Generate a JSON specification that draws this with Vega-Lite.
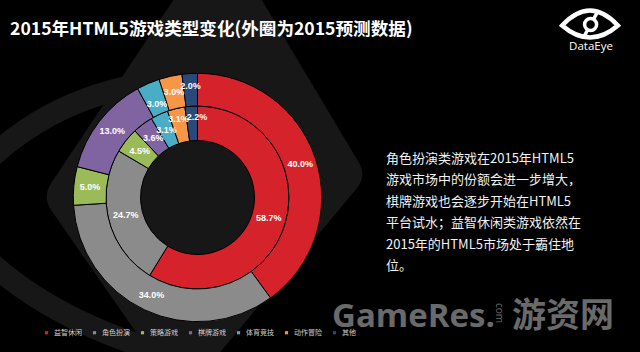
{
  "$schema": "https://vega.github.io/schema/vega-lite/v6.json",
  "width": 640,
  "height": 352,
  "autosize": {"type": "none"},
  "padding": 0,
  "background": "#000000",
  "config": {"view": {"stroke": null}},
  "datasets": {
    "share": [
      {"ring": "内圈", "type": "益智休闲", "value": 58.7, "label": "58.7%", "ord": 1},
      {"ring": "内圈", "type": "角色扮演", "value": 24.7, "label": "24.7%", "ord": 2},
      {"ring": "内圈", "type": "策略游戏", "value": 4.5, "label": "4.5%", "ord": 3},
      {"ring": "内圈", "type": "棋牌游戏", "value": 3.6, "label": "3.6%", "ord": 4},
      {"ring": "内圈", "type": "体育竞技", "value": 3.1, "label": "3.1%", "ord": 5},
      {"ring": "内圈", "type": "动作冒险", "value": 3.1, "label": "3.1%", "ord": 6},
      {"ring": "内圈", "type": "其他", "value": 2.2, "label": "2.2%", "ord": 7},
      {"ring": "外圈", "type": "益智休闲", "value": 40.0, "label": "40.0%", "ord": 1},
      {"ring": "外圈", "type": "角色扮演", "value": 34.0, "label": "34.0%", "ord": 2},
      {"ring": "外圈", "type": "策略游戏", "value": 5.0, "label": "5.0%", "ord": 3},
      {"ring": "外圈", "type": "棋牌游戏", "value": 13.0, "label": "13.0%", "ord": 4},
      {"ring": "外圈", "type": "体育竞技", "value": 3.0, "label": "3.0%", "ord": 5},
      {"ring": "外圈", "type": "动作冒险", "value": 3.0, "label": "3.0%", "ord": 6},
      {"ring": "外圈", "type": "其他", "value": 2.0, "label": "2.0%", "ord": 7}
    ]
  },
  "resolve": {"scale": {"theta": "independent"}},
  "layer": [
    {
      "data": {"values": [{"part": "pupil"}]},
      "mark": {"type": "point", "shape": "M-0.513,-0.009 L0.05,-0.853 L0.512,-0.080 Q0.54,-0.033 0.505,0.009 L-0.077,0.707 L-0.512,0.082 Q-0.543,0.037 -0.513,-0.009 Z", "size": 360000, "filled": true, "color": "#171717", "opacity": 1, "x": 205, "y": 186, "clip": true},
      "encoding": {}
    },
    {
      "data": {"values": [{"part": "lids"}]},
      "mark": {"type": "point", "shape": "M-0.817,0.013 Q-0.483,-0.387 0.083,-0.353 M-0.817,0.147 Q-0.55,0.48 0.083,0.613", "size": 360000, "filled": false, "color": "#171717", "strokeWidth": 22, "opacity": 1, "x": 205, "y": 186, "clip": true},
      "encoding": {}
    },
    {
      "data": {"name": "share"},
      "transform": [{"filter": "datum.ring === '内圈'"}],
      "encoding": {
        "theta": {"field": "value", "type": "quantitative", "stack": true},
        "order": {"field": "ord", "type": "quantitative"}
      },
      "layer": [
        {
          "mark": {"type": "arc", "x": 197.5, "y": 197.5, "radius": 91.5, "radius2": 57, "stroke": "#000000", "strokeWidth": 1},
          "encoding": {
            "color": {
              "field": "type", "type": "nominal",
              "scale": {"domain": ["益智休闲", "角色扮演", "策略游戏", "棋牌游戏", "体育竞技", "动作冒险", "其他"], "range": ["#d6222b", "#8b8b8b", "#9bbb59", "#8064a2", "#4bacc6", "#f79646", "#28497a"]},
              "legend": {"orient": "none", "legendX": 43, "legendY": 329, "direction": "horizontal", "columns": 7, "title": null, "symbolType": "square", "symbolSize": 10, "symbolStrokeWidth": 0, "labelFontSize": 7, "labelColor": "#d0d0d0", "labelFont": "Noto Sans CJK SC", "labelOffset": 4, "columnPadding": 9, "padding": 0}
            }
          }
        },
        {
          "mark": {"type": "text", "x": 197.5, "y": 197.5, "radius": {"expr": "datum.ord >= 6 ? 81 : 74"}, "dx": {"expr": "datum.ord == 7 ? 5 : 0"}, "fill": "#ffffff", "fontSize": 9, "fontWeight": "bold", "font": "Liberation Sans"},
          "encoding": {"text": {"field": "label"}, "detail": {"field": "type"}}
        }
      ]
    },
    {
      "data": {"name": "share"},
      "transform": [{"filter": "datum.ring === '外圈'"}],
      "encoding": {
        "theta": {"field": "value", "type": "quantitative", "stack": true},
        "order": {"field": "ord", "type": "quantitative"}
      },
      "layer": [
        {
          "mark": {"type": "arc", "x": 197.5, "y": 197.5, "radius": 124.2, "radius2": 91.5, "stroke": "#000000", "strokeWidth": 1},
          "encoding": {
            "color": {
              "field": "type", "type": "nominal",
              "scale": {"domain": ["益智休闲", "角色扮演", "策略游戏", "棋牌游戏", "体育竞技", "动作冒险", "其他"], "range": ["#d6222b", "#8b8b8b", "#9bbb59", "#8064a2", "#4bacc6", "#f79646", "#28497a"]},
              "legend": {"orient": "none", "legendX": 43, "legendY": 329, "direction": "horizontal", "columns": 7, "title": null, "symbolType": "square", "symbolSize": 10, "symbolStrokeWidth": 0, "labelFontSize": 7, "labelColor": "#d0d0d0", "labelFont": "Noto Sans CJK SC", "labelOffset": 4, "columnPadding": 9, "padding": 0}
            }
          }
        },
        {
          "mark": {"type": "text", "x": 197.5, "y": 197.5, "radius": {"expr": "datum.ord == 5 ? 102 : datum.ord == 7 ? 112 : 108"}, "fill": "#ffffff", "fontSize": 9, "fontWeight": "bold", "font": "Liberation Sans"},
          "encoding": {"text": {"field": "label"}, "detail": {"field": "type"}}
        }
      ]
    },
    {
      "data": {"values": [{"t": "2015年HTML5游戏类型变化(外圈为2015预测数据)"}]},
      "mark": {"type": "text", "x": 10, "y": 35, "align": "left", "baseline": "alphabetic", "fontSize": 17.6, "fontWeight": "bold", "font": "Noto Sans CJK SC", "color": "#ffffff"},
      "encoding": {"text": {"field": "t"}}
    },
    {
      "data": {"values": [{"t": "角色扮演类游戏在2015年HTML5\n游戏市场中的份额会进一步增大，\n棋牌游戏也会逐步开始在HTML5\n平台试水；益智休闲类游戏依然在\n2015年的HTML5市场处于霸住地\n位。"}]},
      "mark": {"type": "text", "x": 386, "y": 153, "align": "left", "baseline": "top", "lineBreak": "\n", "lineHeight": 21.4, "fontSize": 13, "font": "Noto Sans CJK SC", "color": "#f2f2f2"},
      "encoding": {"text": {"field": "t"}}
    },
    {
      "data": {"values": [{"part": "lens"}]},
      "mark": {"type": "point", "shape": "M-0.93,0.05 Q0,-0.95 0.93,0.05 Q0,0.85 -0.93,0.05 Z", "size": 3600, "filled": false, "color": "#ffffff", "strokeWidth": 4.5, "opacity": 1, "x": 590, "y": 24},
      "encoding": {}
    },
    {
      "data": {"values": [{"part": "iris"}]},
      "mark": {"type": "point", "shape": "M-0.18,0.02 A0.2,0.2 0 1,1 0.22,0.02 A0.2,0.2 0 1,1 -0.18,0.02 Z M0.12,-0.16 L0.26,-0.42 M-0.08,0.2 L-0.2,0.42", "size": 3600, "filled": false, "color": "#ffffff", "strokeWidth": 3.5, "opacity": 1, "x": 590, "y": 24},
      "encoding": {}
    },
    {
      "data": {"values": [{"t": "DataEye"}]},
      "mark": {"type": "text", "x": 591, "y": 47, "align": "center", "baseline": "middle", "fontSize": 11.5, "font": "Open Sans", "color": "#ffffff"},
      "encoding": {"text": {"field": "t"}}
    },
    {
      "data": {"values": [{"t": "GameRes."}]},
      "mark": {"type": "text", "x": 332, "y": 327, "align": "left", "baseline": "alphabetic", "fontSize": 33, "fontWeight": "bold", "font": "Open Sans", "color": "#6a6a6a"},
      "encoding": {"text": {"field": "t"}}
    },
    {
      "data": {"values": [{"t": "com"}]},
      "mark": {"type": "text", "x": 499, "y": 303, "angle": 90, "align": "left", "baseline": "middle", "fontSize": 10, "font": "Open Sans", "color": "#6a6a6a"},
      "encoding": {"text": {"field": "t"}}
    },
    {
      "data": {"values": [{"t": "游资网"}]},
      "mark": {"type": "text", "x": 512, "y": 327, "align": "left", "baseline": "alphabetic", "fontSize": 34, "fontWeight": "bold", "font": "Noto Sans CJK SC", "color": "#6a6a6a"},
      "encoding": {"text": {"field": "t"}}
    }
  ]
}
